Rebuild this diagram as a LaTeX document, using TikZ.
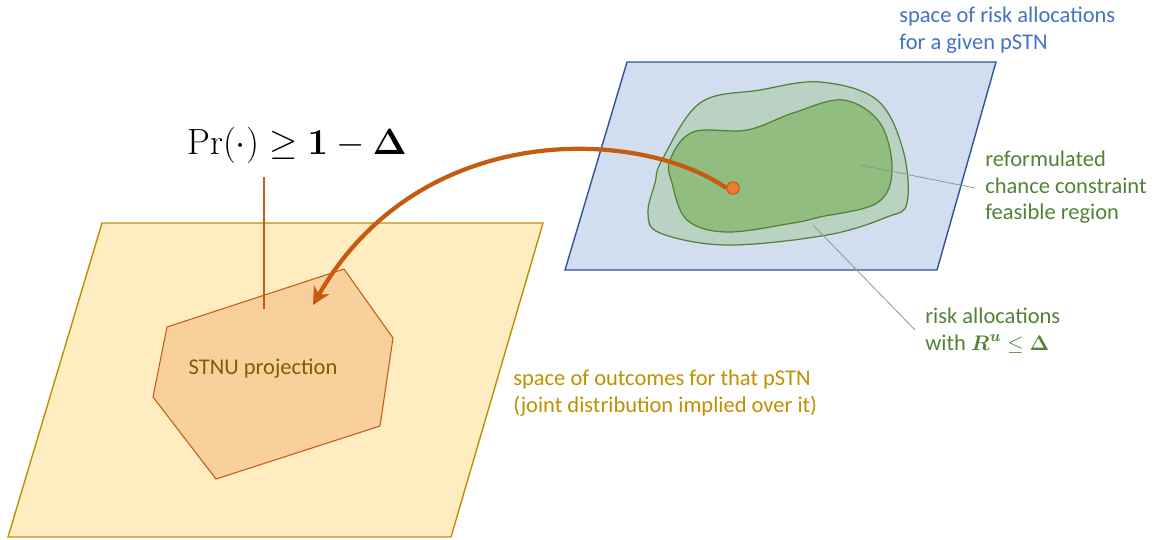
\documentclass[tikz,border=0pt]{standalone}
\usepackage{amsmath}
\usepackage[no-math]{fontspec}
\setmainfont{Carlito}
\usetikzlibrary{arrows.meta}
\begin{document}
\begin{tikzpicture}[x=0.02cm,y=-0.02cm,
  lbl/.style={inner sep=0pt, anchor=north west, align=left, font=\fontsize{12.8}{15}\selectfont},
  leader/.style={draw=leadgreen, line width=0.45pt},
]
\definecolor{planeY}{HTML}{FFEDC1}
\definecolor{planeYline}{HTML}{BF9000}
\definecolor{hexfill}{HTML}{F8D09C}
\definecolor{rust}{HTML}{C55A11}
\definecolor{dotfill}{HTML}{ED7D31}
\definecolor{planeB}{HTML}{D2DEF0}
\definecolor{planeBline}{HTML}{2F5597}
\definecolor{blobOuter}{HTML}{BAD2C4}
\definecolor{blobInner}{HTML}{91BD80}
\definecolor{blobLine}{HTML}{548235}
\definecolor{leadgreen}{HTML}{7F9F86}
\definecolor{txtblue}{HTML}{4472C4}
\definecolor{txtgreen}{HTML}{548235}
\definecolor{txtgold}{HTML}{BF9000}
\definecolor{txtdark}{HTML}{7F6000}

\useasboundingbox (0,0) rectangle (1152,539);

% outcome space (yellow plane)
\draw[fill=planeY, draw=planeYline, line width=0.8pt]
  (102,223) -- (543,223) -- (451,537) -- (8,537) -- cycle;

% STNU projection polygon
\draw[fill=hexfill, draw=rust, line width=0.6pt]
  (167,327) -- (344,269) -- (393,338) -- (380,426) -- (216,479) -- (153,397) -- cycle;
\node[font=\fontsize{12.8}{15}\selectfont, text=txtdark] (proj) at (263,369) {STNU projection};

% risk allocation space (blue plane)
\draw[fill=planeB, draw=planeBline, line width=0.8pt]
  (627,62) -- (996,62) -- (937,270) -- (565,270) -- cycle;

% risk allocations with bounded risk
\draw[fill=blobOuter, draw=blobLine, line width=0.7pt]
  plot[smooth cycle, tension=0.6] coordinates {
   (662,160) (700,103) (760,90) (820,82) (877,100) (903,150) (907,203)
   (887,217) (827,235) (727,245) (660,233) (648,213) (655,183)};

% reformulated feasible region
\draw[fill=blobInner, draw=blobLine, line width=0.7pt]
  plot[smooth cycle, tension=0.6] coordinates {
   (670,160) (693,132) (747,130) (793,113) (843,100) (880,123) (892,170)
   (877,203) (820,217) (793,223) (727,232) (687,220) (672,183)};

% leader lines
\coordinate (innerpt) at (860,165);
\coordinate (outerpt) at (813,225);
\coordinate (reflead) at (975,188);
\coordinate (risklead) at (915,330);
\draw[leader] (innerpt) -- (reflead);
\draw[leader] (outerpt) -- (risklead);

% chance constraint
\node[inner sep=0pt, font=\fontsize{19.5}{23}\selectfont] (cc) at (297,145)
  {$\Pr(\cdot) \geq \mathbf{1} - \boldsymbol{\Delta}$};
\coordinate (ccfoot) at (264,309);
\draw[rust, line width=0.8pt] (264,177) -- (ccfoot);

% mapping arrow
\node[circle, fill=dotfill, draw=rust, line width=0.6pt, minimum size=0.25cm, inner sep=0pt] (pt) at (733,188) {};
\coordinate (tip) at (313,305);
\draw[rust, line width=2.4pt, -{Stealth[length=10pt,width=10pt]}]
  (pt.west) .. controls (640,128) and (420,118) .. (tip);

% labels
\node[lbl, text=txtblue] (lblB) at (899,7) {space of risk allocations\\for a given pSTN};
\node[lbl, text=txtgreen] (lblF) at (985,151) {reformulated\\chance constraint\\feasible region};
\node[lbl, text=txtgreen] (lblR) at (925,308) {risk allocations\\with $\boldsymbol{R}^{\boldsymbol{u}} \leq \boldsymbol{\Delta}$};
\node[lbl, text=txtgold] (lblY) at (513,370) {space of outcomes for that pSTN\\(joint distribution implied over it)};
\end{tikzpicture}
\end{document}
